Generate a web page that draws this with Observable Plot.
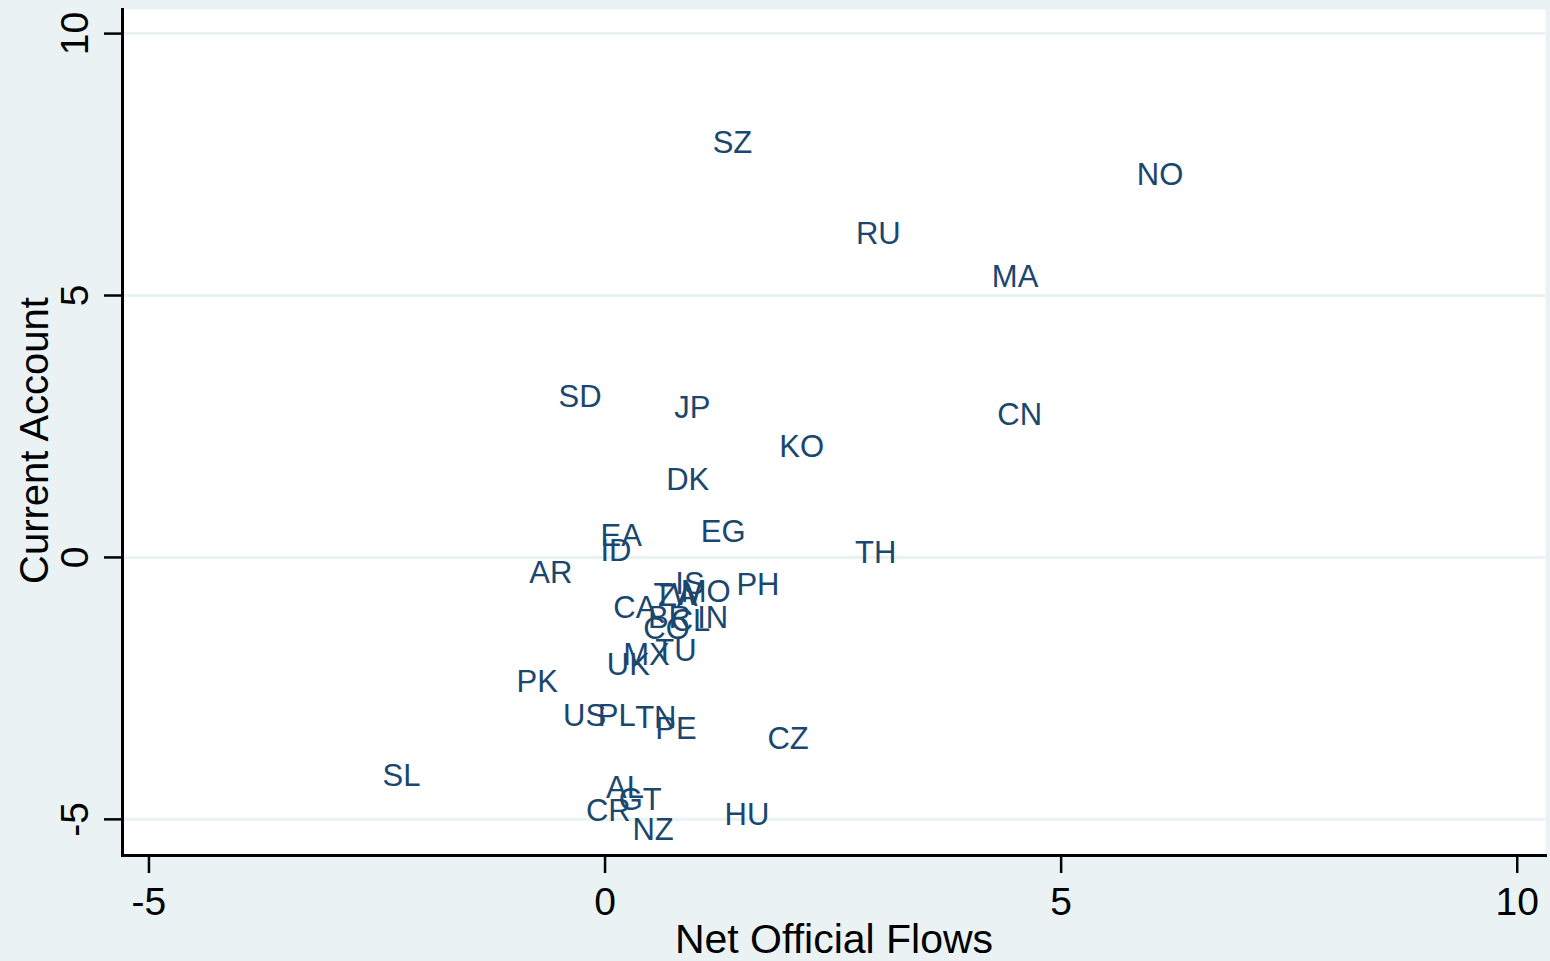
<!DOCTYPE html>
<html>
<head>
<meta charset="utf-8">
<script src="https://cdn.jsdelivr.net/npm/d3@7"></script>
<script src="https://cdn.jsdelivr.net/npm/@observablehq/plot@0.6"></script>
<style>
  html, body { margin: 0; padding: 0; background: #eaf2f3; }
  #chart svg { display: block; }
</style>
</head>
<body>
<div id="chart"></div>
<script>
// Country codes with net official flows (x) and current account (y), % of GDP
const codes = ["SZ","NO","RU","MA","SD","JP","CN","KO","DK","EG","EA","ID","TH","AR","PH","IS","TW","ZA","MO","CA","BR","CL","IN","CO","TU","MX","UK","PK","US","PL","TN","PE","CZ","SL","AL","GT","CR","HU","NZ"];
const netOfficialFlows = [1.18,5.83,2.75,4.24,-0.51,0.76,4.30,1.91,0.67,1.05,-0.05,-0.05,2.74,-0.83,1.44,0.77,0.53,0.58,0.83,0.09,0.47,0.72,1.01,0.42,0.55,0.20,0.02,-0.97,-0.46,-0.08,0.33,0.55,1.78,-2.44,0.01,0.15,-0.21,1.31,0.30];
const currentAccount = [7.91,7.29,6.18,5.36,3.07,2.86,2.71,2.10,1.47,0.48,0.40,0.13,0.08,-0.29,-0.53,-0.50,-0.72,-0.74,-0.67,-0.97,-1.15,-1.22,-1.16,-1.37,-1.79,-1.87,-2.06,-2.37,-3.03,-3.03,-3.07,-3.28,-3.47,-4.18,-4.41,-4.64,-4.85,-4.92,-5.21];

const xTicks = [-5, 0, 5, 10];
const yTicks = [-5, 0, 5, 10];

const rows = codes.map((c, i) => ({code: c, x: netOfficialFlows[i], y: currentAccount[i]}));

const font = "'Liberation Sans', Arial, Helvetica, sans-serif";
const navy = "#1a476f";
const bg = "#eaf2f3";

const chart = Plot.plot({
  width: 1550,
  height: 961,
  marginLeft: 122,
  marginRight: 5,
  marginTop: 9,
  marginBottom: 106,
  style: {background: bg, fontFamily: font},
  x: {domain: [-5.29, 10.31], axis: null},
  y: {domain: [-5.69, 10.46], axis: null},
  marks: [
    Plot.frame({fill: "white", stroke: null}),
    // horizontal grid
    Plot.ruleY(yTicks, {stroke: bg, strokeWidth: 3}),
    // x axis: ticks and labels
    Plot.axisX(xTicks, {
      tickSize: 18, tickPadding: 14, strokeWidth: 2.5, stroke: "black",
      fontSize: 39, fill: "black", label: null, tickFormat: d => String(d)
    }),
    // y axis ticks (labels drawn rotated below)
    Plot.axisY(yTicks, {
      tickSize: 18, strokeWidth: 2.5, stroke: "black", label: null, tickFormat: () => ""
    }),
    Plot.text(yTicks, {
      y: d => d, text: d => String(d), frameAnchor: "left", dx: -35,
      rotate: -90, textAnchor: "middle", lineAnchor: "bottom",
      fontSize: 39, fill: "black"
    }),
    // axis lines
    Plot.frame({anchor: "left", stroke: "black", strokeWidth: 3}),
    Plot.frame({anchor: "bottom", stroke: "black", strokeWidth: 3}),
    // axis titles
    Plot.text(["Net Official Flows"], {
      frameAnchor: "bottom", textAnchor: "middle", dy: 97, lineAnchor: "bottom",
      fontSize: 41, fill: "black"
    }),
    Plot.text(["Current Account"], {
      frameAnchor: "left", textAnchor: "middle", dx: -75, dy: 8, rotate: -90, lineAnchor: "bottom",
      fontSize: 40, fill: "black"
    }),
    // country labels
    Plot.text(rows, {
      x: "x", y: "y", text: "code", textAnchor: "start", lineAnchor: "middle",
      fontSize: 31, fill: navy
    })
  ]
});

document.getElementById("chart").appendChild(chart);
</script>
</body>
</html>
